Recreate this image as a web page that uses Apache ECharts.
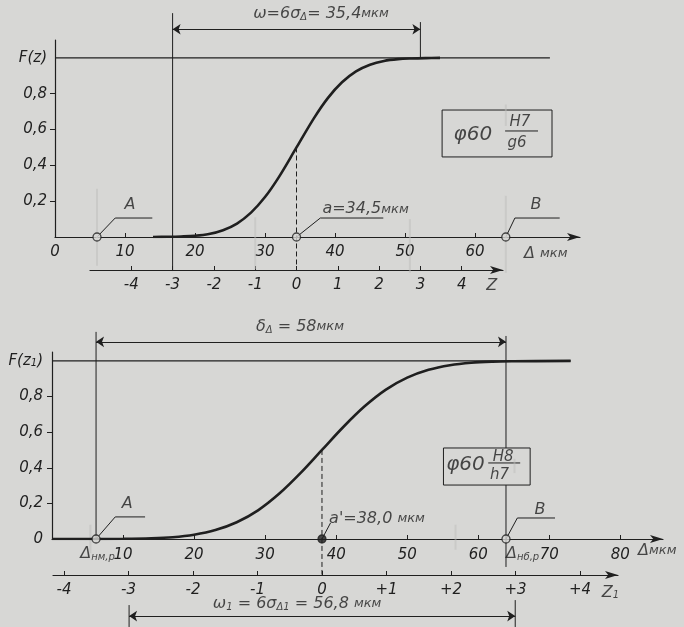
<!DOCTYPE html>
<html><head><meta charset="utf-8">
<script src="https://cdn.jsdelivr.net/npm/echarts@6/dist/echarts.min.js"></script>
<style>html,body{margin:0;padding:0;background:#d7d7d5}#c{width:684px;height:627px}</style>
</head><body><div id="c"></div>
<script>
// ---------- DATA: upper chart  φ60 H7/g6 ----------
const topDelta = [14,16,18,20,22,24,26,28,30,32,34.5,37,39,41,43,45,47,49,51,53,55];
const topF     = [0,0.001,0.003,0.007,0.017,0.038,0.075,0.136,0.223,0.336,0.5,0.664,0.777,0.864,0.925,0.962,0.983,0.993,0.997,0.999,1];
const topOneLine = [0, 70.7];                 // F = 1 level line (Δ from..to)
const topDeltaTicks = [0,10,20,30,40,50,60];
const topZTicks  = [-4,-3,-2,-1,0,1,2,3,4];
const topZLabels = ['-4','-3','-2','-1','0','1','2','3','4'];
const topYTicks  = [0.2,0.4,0.6,0.8,1];
const topYLabels = ['0,2','0,4','0,6','0,8','F(z)'];
const topMean = 34.5, topLo = 16.8, topHi = 52.2, topA = 6, topB = 64.4;

// ---------- DATA: lower chart  φ60 H8/h7 ----------
const botDelta = [0,5,10,14,17,20,23,26,29,32,35,38,41,44,47,50,53,56,59,62,65,73];
const botF     = [0,0,0.001,0.004,0.010,0.024,0.050,0.094,0.161,0.255,0.371,0.5,0.629,0.745,0.839,0.906,0.950,0.976,0.990,0.996,0.998,1];
const botOneLine = [0, 73];
const botDeltaTicks = [10,20,30,40,50,60,70,80];
const botZTicks  = [-4,-3,-2,-1,0,1,2,3,4];
const botZLabels = ['-4','-3','-2','-1','0','+1','+2','+3','+4'];
const botYTicks  = [0,0.2,0.4,0.6,0.8,1];
const botYLabels = ['0','0,2','0,4','0,6','0,8','F(z{s|1})'];
const botMean = 38.0, botLo = 10.85, botHi = 65.2, botA = 6.2, botB = 63.9;

// ---------- STYLE ----------
const INK = '#1f1f1f', FAINT = '#bdbdbb', BG = '#d7d7d5';
const FONT = 'DejaVu Sans';
const RICH = {
  t: {fontSize: 14, fontFamily: FONT, fontStyle: 'italic', color: INK},
  L: {fontSize: 16, fontFamily: FONT, fontStyle: 'italic', color: INK},
  f: {fontSize: 15, fontFamily: FONT, fontStyle: 'italic', color: INK},
  b: {fontSize: 20, fontFamily: FONT, fontStyle: 'italic', color: INK},
  m: {fontSize: 13, fontFamily: FONT, fontStyle: 'italic', color: INK},
  s: {fontSize: 10, fontFamily: FONT, fontStyle: 'italic', color: INK, verticalAlign: 'bottom', padding: [6,0,0,0]}
};
const mapOf = (k, v) => { const o = {}; k.forEach((x, i) => o[String(x)] = v[i]); return o; };
const zip = (a, b) => a.map((x, i) => [x, b[i]]);

function valueAxis(gi, min, max, o) {
  return Object.assign({
    type: 'value', gridIndex: gi, min: min, max: max, splitLine: {show: false},
    axisLine: {show: true, onZero: false, lineStyle: {color: INK, width: 1.2}},
    axisTick: {show: false}, axisLabel: {show: false}
  }, o);
}
const AXLBL = {color: INK, fontFamily: FONT, fontStyle: 'italic', fontSize: 15};
const ARROW = {show: true, onZero: false, symbol: ['none', 'arrow'], symbolSize: [6, 13], lineStyle: {color: INK, width: 1.2}};
function segs(i, items, style) {
  return {type: 'lines', coordinateSystem: 'cartesian2d', xAxisIndex: i, yAxisIndex: i, polyline: true,
    clip: false, silent: true, z: 3,
    lineStyle: Object.assign({color: INK, width: 1, opacity: 1}, style || {}),
    data: items.map(c => ({coords: c}))};
}
function dims(i, items) {
  return {type: 'lines', coordinateSystem: 'cartesian2d', xAxisIndex: i, yAxisIndex: i,
    clip: false, silent: true, symbol: ['arrow', 'arrow'], symbolSize: 8, z: 3,
    lineStyle: {color: INK, width: 1, opacity: 1},
    data: items.map(c => ({coords: c}))};
}
function texts(i, items) {
  return {type: 'scatter', xAxisIndex: i, yAxisIndex: i, clip: false, silent: true, symbolSize: 1, z: 5,
    itemStyle: {color: 'rgba(0,0,0,0)'},
    label: {show: true, position: 'inside', color: INK, fontFamily: FONT, fontStyle: 'italic', fontSize: 14, rich: RICH},
    data: items.map(t => ({value: [t[0], t[1]], label: Object.assign({formatter: t[2]}, t[3] || {})}))};
}
function circles(i, pts, filled) {
  return {type: 'scatter', xAxisIndex: i, yAxisIndex: i, clip: false, silent: true, z: 6,
    symbol: 'circle', symbolSize: 8,
    itemStyle: {color: filled ? INK : BG, borderColor: INK, borderWidth: 1.3},
    data: pts};
}
function curve(i, xs, ys) {
  return {type: 'line', xAxisIndex: i, yAxisIndex: i, data: zip(xs, ys), smooth: 0.35,
    symbol: 'none', silent: true, z: 4, lineStyle: {color: INK, width: 2.6}};
}
function level(i, r) {
  return {type: 'line', xAxisIndex: i, yAxisIndex: i, data: [[r[0], 1], [r[1], 1]],
    symbol: 'none', silent: true, lineStyle: {color: INK, width: 1.1}};
}

const topYMap = mapOf(topYTicks, topYLabels), botYMap = mapOf(botYTicks, botYLabels);
const topZMap = mapOf(topZTicks, topZLabels), botZMap = mapOf(botZTicks, botZLabels);

const option = {
  backgroundColor: BG,
  animation: false,
  grid: [
    {left: 55, top: 40, width: 525, height: 197},
    {left: 90, top: 269, width: 413, height: 1},
    {left: 52, top: 352, width: 611, height: 187},
    {left: 53, top: 574, width: 565, height: 1}
  ],
  xAxis: [
    valueAxis(0, 0, 75, {
      axisLine: ARROW,
      axisTick: {show: true, inside: true, length: 4, customValues: topDeltaTicks.slice(1), lineStyle: {color: INK}},
      axisLabel: Object.assign({show: true, customValues: topDeltaTicks, margin: 8}, AXLBL)
    }),
    valueAxis(1, -5, 5, {
      axisLine: ARROW,
      axisTick: {show: true, inside: true, length: 4, customValues: topZTicks, lineStyle: {color: INK}},
      axisLabel: Object.assign({show: true, customValues: topZTicks, margin: 8, formatter: v => topZMap[String(v)]}, AXLBL)
    }),
    valueAxis(2, 0, 86, {
      axisLine: ARROW,
      axisTick: {show: true, inside: true, length: 4, customValues: botDeltaTicks, lineStyle: {color: INK}},
      axisLabel: Object.assign({show: true, customValues: botDeltaTicks, margin: 9}, AXLBL)
    }),
    valueAxis(3, -4.17, 4.59, {
      axisLine: ARROW,
      axisTick: {show: true, inside: true, length: 4, customValues: botZTicks, lineStyle: {color: INK}},
      axisLabel: Object.assign({show: true, customValues: botZTicks, margin: 8, formatter: v => botZMap[String(v)]}, AXLBL)
    })
  ],
  yAxis: [
    valueAxis(0, 0, 1.1, {
      axisTick: {show: true, length: 5, customValues: topYTicks.slice(0, 4), lineStyle: {color: INK}},
      axisLabel: Object.assign({show: true, customValues: topYTicks, margin: 8, formatter: v => topYMap[String(v)]}, AXLBL)
    }),
    valueAxis(1, 0, 1, {show: false}),
    valueAxis(2, 0, 1.05, {
      axisTick: {show: true, length: 5, customValues: botYTicks.slice(1, 5), lineStyle: {color: INK}},
      axisLabel: Object.assign({show: true, customValues: botYTicks, margin: 9, rich: Object.assign({}, RICH, {t: Object.assign({}, RICH.t, {fontSize: 15})}),
        formatter: v => '{t|' + botYMap[String(v)].replace('{s|1}', '}{s|1}{t|') + '}'}, AXLBL)
    }),
    valueAxis(3, 0, 1, {show: false})
  ],
  series: [
    // ===== upper chart =====
    level(0, topOneLine),
    curve(0, topDelta, topF),
    segs(0, [
      [[topLo, 1.25], [topLo, -0.19]],
      [[topHi, 1.0], [topHi, 1.2]],
      [[topA, 0], [8.6, 0.106], [13.9, 0.106]],
      [[topMean, 0], [37.9, 0.106], [46.9, 0.106]],
      [[topB, 0], [65.7, 0.106], [72.1, 0.106]],
      [[55.3, 0.709], [71, 0.709], [71, 0.447], [55.3, 0.447], [55.3, 0.709]],
      [[64.3, 0.592], [69.0, 0.592]]
    ]),
    segs(0, [[[topA, 0.27], [topA, -0.16]], [[topB, 0.74], [topB, 0.62]], [[topB, 0.23], [topB, -0.2]],
      [[28.6, 0.11], [28.6, -0.18]], [[50.7, 0.1], [50.7, -0.2]]],
      {color: FAINT, width: 2, opacity: 0.5}),
    segs(0, [[[topMean, 0.5], [topMean, -0.19]]], {type: [5, 3]}),
    dims(0, [[[topLo, 1.16], [topHi, 1.16]]]),
    circles(0, [[topA, 0], [topMean, 0], [topB, 0]], false),
    texts(0, [
      [38.0, 1.245, '{L|ω=6σ}{s|Δ}{L|= 35,4}{m|мкм}'],
      [10.7, 0.18, '{L|A}'],
      [38.2, 0.155, '{L|a=34,5}{m|мкм}', {align: 'left'}],
      [68.7, 0.18, '{L|B}'],
      [70.1, -0.095, '{L|Δ }{m|мкм}'],
      [62.4, -0.27, '{L|Z}'],
      [59.7, 0.57, '{b|φ60}'],
      [66.4, 0.64, '{f|H7}'],
      [66.0, 0.525, '{f|g6}']
    ]),
    // ===== lower chart =====
    level(2, botOneLine),
    curve(2, botDelta, botF),
    segs(2, [
      [[botA, 1.163], [botA, 0]],
      [[botB, 1.14], [botB, 0.511]],
      [[botB, 0.303], [botB, -0.157]],
      [[botA, 0], [8.9, 0.124], [13.1, 0.124]],
      [[botMean, 0], [39.2, 0.09]],
      [[botB, 0], [65.5, 0.118], [70.8, 0.118]],
      [[55.1, 0.511], [67.3, 0.511], [67.3, 0.303], [55.1, 0.303], [55.1, 0.511]],
      [[61.4, 0.427], [65.9, 0.427]],
      [[botLo, -0.371], [botLo, -0.494]],
      [[botHi, -0.343], [botHi, -0.494]]
    ]),
    segs(2, [[[5.4, 0.08], [5.4, -0.08]], [[65.1, 0.45], [65.1, 0.37]], [[56.8, 0.08], [56.8, -0.06]]],
      {color: FAINT, width: 2, opacity: 0.5}),
    segs(2, [[[botMean, 0.5], [botMean, -0.2]]], {type: [5, 3]}),
    dims(2, [[[botA, 1.107], [botB, 1.107]], [[botLo, -0.433], [botHi, -0.433]]]),
    circles(2, [[botA, 0], [botB, 0]], false),
    circles(2, [[botMean, 0]], true),
    texts(2, [
      [34.9, 1.19, '{L|δ}{s|Δ}{L| = 58}{m|мкм}'],
      [34.5, -0.365, '{L|ω}{s|1}{L| = 6σ}{s|Δ1}{L| = 56,8 }{m|мкм}'],
      [10.6, 0.2, '{L|A}'],
      [39.0, 0.112, '{L|a\'=38,0 }{m|мкм}', {align: 'left'}],
      [68.7, 0.163, '{L|B}'],
      [6.4, -0.085, '{L|Δ}{s|нм,р}'],
      [63.9, -0.085, '{L|Δ}{s|нб,р}', {align: 'left'}],
      [85.2, -0.065, '{L|Δ}{m|мкм}'],
      [78.6, -0.3, '{L|Z}{s|1}'],
      [58.2, 0.416, '{b|φ60}'],
      [63.5, 0.462, '{f|H8}'],
      [63.0, 0.36, '{f|h7}']
    ])
  ]
};
const chart = echarts.init(document.getElementById('c'));
chart.setOption(option);
</script></body></html>
